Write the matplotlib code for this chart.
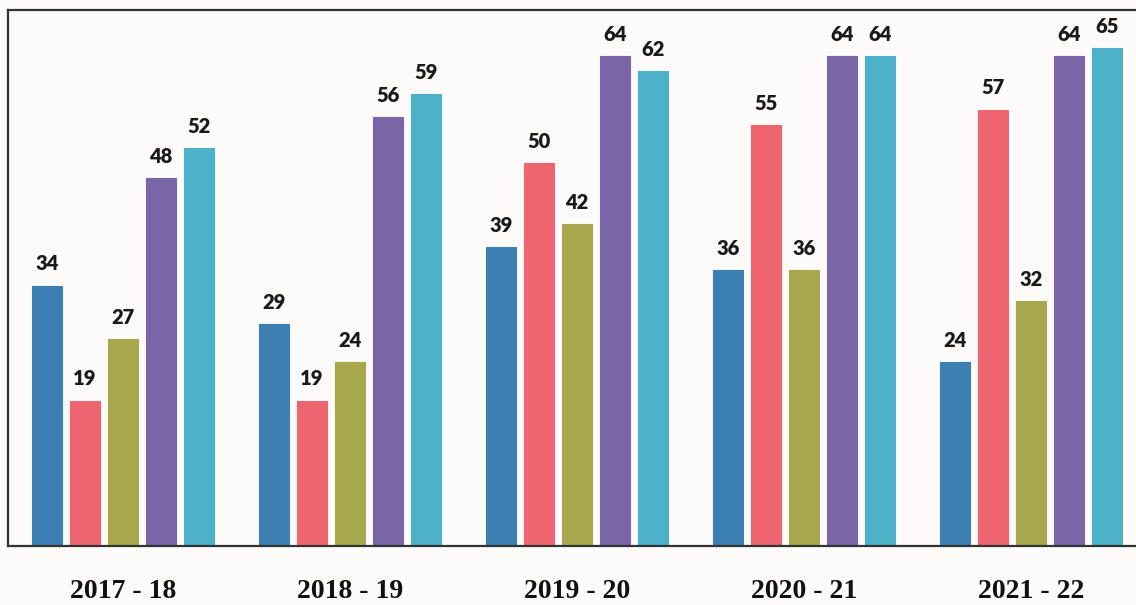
import numpy as np
import matplotlib.pyplot as plt

years = ['2017 - 18', '2018 - 19', '2019 - 20', '2020 - 21', '2021 - 22']
series_a = [34, 29, 39, 36, 24]
series_b = [19, 19, 50, 55, 57]
series_c = [27, 24, 42, 36, 32]
series_d = [48, 56, 64, 64, 64]
series_e = [52, 59, 62, 64, 65]

colors = ['#3b7fb3', '#ee6570', '#a9a74e', '#7a65a6', '#4db1c9']

fig = plt.figure(figsize=(11.36, 6.05), dpi=100, facecolor='#fcfbfa')
ax = fig.add_axes([8 / 1136, 59 / 605, 1 - 8 / 1136, 536 / 605])
ax.set_facecolor('#fcfbfa')

x = np.arange(len(years))
step = 38 / 227
width = 30 / 227
all_series = [series_a, series_b, series_c, series_d, series_e]

for k, (vals, col) in enumerate(zip(all_series, colors)):
    pos = x + (k - 2) * step
    ax.bar(pos, vals, width, color=col, edgecolor=col, linewidth=0.8)
    for px, v in zip(pos, vals):
        ax.annotate(str(v), (px, v), xytext=(0, 11), textcoords='offset points',
                    ha='center', va='baseline', fontsize=14.5,
                    fontweight='heavy', family='Lato', color='#1a1a1a')

ax.set_xlim(-0.507, 4.463)
ax.set_ylim(0, 70)
ax.set_xticks(x)
ax.set_xticklabels(years, fontsize=20, fontweight='bold', family='Liberation Serif',
                   color='#111111')
ax.tick_params(axis='x', length=0, pad=24)
ax.set_yticks([])

for side in ['top', 'left', 'bottom']:
    ax.spines[side].set_color('#333333')
    ax.spines[side].set_linewidth(1.6)
ax.spines['right'].set_visible(False)

fig.savefig('out.png', dpi=100, facecolor=fig.get_facecolor())
